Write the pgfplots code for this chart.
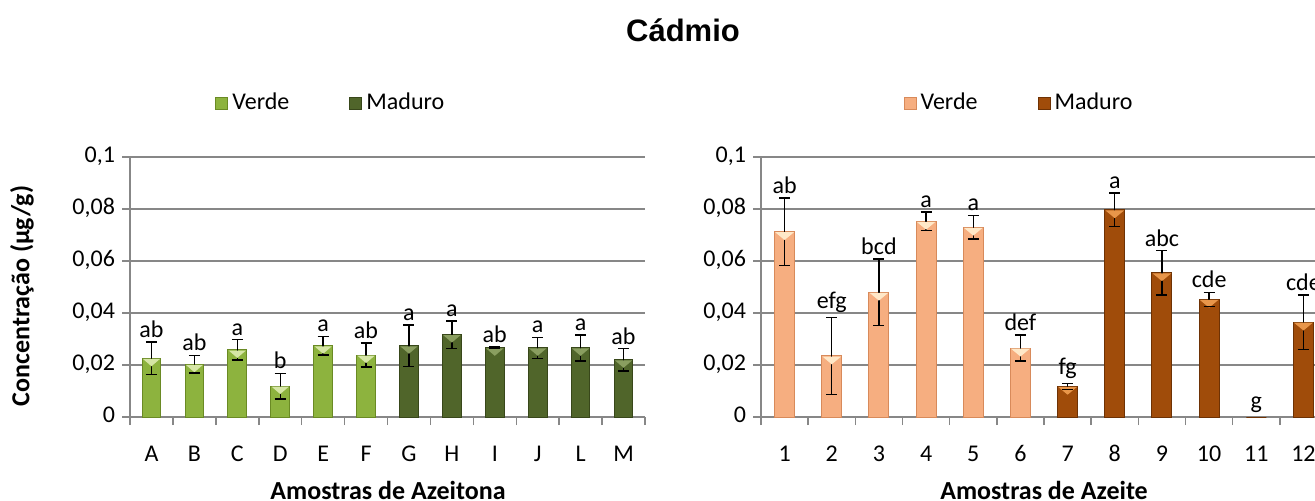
\documentclass[border=0pt]{standalone}
\usepackage{fontspec}
\setmainfont{Carlito}
\newfontfamily\arialf{Liberation Sans}
\usepackage{pgfplots}
\pgfplotsset{compat=1.18}
\definecolor{gridc}{HTML}{878787}
\definecolor{gvL}{HTML}{8DB33E}\definecolor{gvE}{HTML}{6A8A24}
\definecolor{gmL}{HTML}{50652A}\definecolor{gmE}{HTML}{38471A}
\definecolor{ovL}{HTML}{F6AE80}\definecolor{ovE}{HTML}{D88A5A}
\definecolor{omL}{HTML}{A04C0A}\definecolor{omE}{HTML}{6E3204}
\definecolor{gvT}{HTML}{D6E6A6}\definecolor{gmT}{HTML}{8A9E60}
\definecolor{ovT}{HTML}{FFE8C8}\definecolor{omT}{HTML}{E8964A}
\newcommand{\fs}{\fontsize{12}{14}\selectfont}
\newcommand{\fb}{\bfseries\fontsize{13}{15}\selectfont}
\pgfdeclareplotmark{invtriL}{\pgfpathmoveto{\pgfpoint{-4.3pt}{-0.3pt}}\pgfpathlineto{\pgfpoint{4.3pt}{-0.3pt}}\pgfpathlineto{\pgfpoint{0pt}{-4pt}}\pgfpathclose\pgfusepathqfill}
\pgfdeclareplotmark{invtriR}{\pgfpathmoveto{\pgfpoint{-4.7pt}{-0.3pt}}\pgfpathlineto{\pgfpoint{4.7pt}{-0.3pt}}\pgfpathlineto{\pgfpoint{0pt}{-4.2pt}}\pgfpathclose\pgfusepathqfill}
\pgfdeclareplotmark{hcap}{\pgfpathmoveto{\pgfpoint{-2.75pt}{0pt}}\pgfpathlineto{\pgfpoint{2.75pt}{0pt}}\pgfusepathqstroke}
\pgfplotsset{
  myax/.style={
    scale only axis, anchor=south west,
    height=130pt, ymin=0, ymax=0.1,
    xmin=0.5, xmax=12.5,
    axis lines=left, axis line style={-, draw=gridc, line width=0.75pt},
    ymajorgrids, grid style={draw=gridc, line width=0.75pt},
    ytick={0,0.02,0.04,0.06,0.08,0.1},
    yticklabel style={/pgf/number format/fixed, /pgf/number format/use comma, /pgf/number format/assume math mode=true, font=\fs},
    tick align=outside, major tick length=4pt,
    tick style={draw=gridc, line width=0.75pt},
    xtick={0.5,1.5,...,12.5}, xticklabels={,,,,,,,,,,,,,},
    typeset ticklabels with strut,
    extra x ticks={1,...,12},
    extra x tick style={major tick length=0pt, xticklabel style={yshift=-9pt, font=\fs}},
    ybar, bar shift=0pt,
    legend columns=2,
    legend style={draw=none, fill=none, font=\fs, anchor=center, /tikz/every even column/.append style={column sep=28pt}},
    legend image code/.code={\path[##1] (0pt,-3pt) rectangle (6pt,3pt);},
    clip=false,
  },
  lbl/.style={only marks, mark=none, forget plot, nodes near coords, point meta=explicit symbolic,
    every node near coord/.style={anchor=south, font=\fs, black, inner sep=2pt}},
  eb/.style={draw=none, fill=none, mark=none, forget plot,
    error bars/.cd, y dir=both, y explicit, error mark=none,
    error bar style={draw=black, line width=0.7pt}},
  caps/.style={only marks, mark=hcap, forget plot, mark options={draw=black, line width=0.7pt}},
}
\begin{document}
\begin{tikzpicture}
\useasboundingbox (0,0) rectangle (657.5pt,250pt);
\node[font=\arialf\bfseries\fontsize{15.5}{18}\selectfont] at (341.5pt,235pt) {Cádmio};
\node[font=\fb, rotate=90] at (11pt,102pt) {Concentração (µg/g)};
\node[font=\fb] at (194pt,5pt) {Amostras de Azeitona};
\node[font=\fb] at (522pt,5pt) {Amostras de Azeite};

\begin{axis}[myax, at={(65pt,41.5pt)}, width=257.5pt, bar width=9.3pt,
  extra x tick labels={A,B,C,D,E,F,G,H,I,J,L,M},
  legend style={at={(0.392,1.2077)}}]
\addplot[fill=gvL, draw=gvE, line width=0.5pt]
 coordinates {(1,0.0226) (2,0.0203) (3,0.0258) (4,0.0119) (5,0.0274) (6,0.0238)};
\addlegendentry{Verde}
\addplot[fill=gmL, draw=gmE, line width=0.5pt]
 coordinates {(7,0.0274) (8,0.0317) (9,0.0266) (10,0.0266) (11,0.0266) (12,0.0220)};
\addlegendentry{Maduro}
\addplot[only marks, mark=invtriL, color=gvT, forget plot]
 coordinates {(1,0.0226) (2,0.0203) (3,0.0258) (4,0.0119) (5,0.0274) (6,0.0238)};
\addplot[only marks, mark=invtriL, color=gmT, forget plot]
 coordinates {(7,0.0274) (8,0.0317) (9,0.0266) (10,0.0266) (11,0.0266) (12,0.0220)};
\addplot[eb] coordinates {
 (1,0.0226) +- (0,0.0062) (2,0.0203) +- (0,0.0034) (3,0.0258) +- (0,0.0039)
 (4,0.0119) +- (0,0.0049) (5,0.0274) +- (0,0.0036) (6,0.0238) +- (0,0.0046)
 (7,0.0274) +- (0,0.0080) (8,0.0317) +- (0,0.0053) (9,0.0266) +- (0,0.0003)
 (10,0.0266) +- (0,0.0040) (11,0.0266) +- (0,0.0050) (12,0.0220) +- (0,0.0043)};
\addplot[caps] coordinates {
 (1,0.0288) (1,0.0164) (2,0.0237) (2,0.0169) (3,0.0297) (3,0.0219)
 (4,0.0168) (4,0.0070) (5,0.0310) (5,0.0238) (6,0.0284) (6,0.0192)
 (7,0.0354) (7,0.0194) (8,0.0370) (8,0.0264) (9,0.0269) (9,0.0263)
 (10,0.0306) (10,0.0226) (11,0.0316) (11,0.0216) (12,0.0263) (12,0.0177)};
\addplot[lbl] coordinates {
 (1,0.0288)[ab] (2,0.0237)[ab] (3,0.0297)[a] (4,0.0168)[b] (5,0.0310)[a] (6,0.0284)[ab]
 (7,0.0354)[a] (8,0.0370)[a] (9,0.0269)[ab] (10,0.0306)[a] (11,0.0316)[a] (12,0.0263)[ab]};
\end{axis}

\begin{axis}[myax, at={(380.5pt,41.5pt)}, width=283pt, bar width=10pt,
  extra x tick labels={1,2,3,4,5,6,7,8,9,10,11,12},
  legend style={at={(0.4576,1.2077)}}]
\addplot[fill=ovL, draw=ovE, line width=0.5pt]
 coordinates {(1,0.0713) (2,0.0235) (3,0.0480) (4,0.0753) (5,0.0730) (6,0.0265)};
\addlegendentry{Verde}
\addplot[fill=omL, draw=omE, line width=0.5pt]
 coordinates {(7,0.0118) (8,0.0797) (9,0.0555) (10,0.0453) (11,0) (12,0.0365)};
\addlegendentry{Maduro}
\addplot[only marks, mark=invtriR, color=ovT, forget plot]
 coordinates {(1,0.0713) (2,0.0235) (3,0.0480) (4,0.0753) (5,0.0730) (6,0.0265)};
\addplot[only marks, mark=invtriR, color=omT, forget plot]
 coordinates {(7,0.0118) (8,0.0797) (9,0.0555) (10,0.0453) (12,0.0365)};
\addplot[eb] coordinates {
 (1,0.0713) +- (0,0.0130) (2,0.0235) +- (0,0.0148) (3,0.0480) +- (0,0.0128)
 (4,0.0753) +- (0,0.0036) (5,0.0730) +- (0,0.0046) (6,0.0265) +- (0,0.0050)
 (7,0.0118) +- (0,0.0012) (8,0.0797) +- (0,0.0065) (9,0.0555) +- (0,0.0085)
 (10,0.0453) +- (0,0.0027) (12,0.0365) +- (0,0.0105)};
\addplot[caps] coordinates {
 (1,0.0843) (1,0.0583) (2,0.0383) (2,0.0087) (3,0.0608) (3,0.0352)
 (4,0.0789) (4,0.0717) (5,0.0776) (5,0.0684) (6,0.0315) (6,0.0215)
 (7,0.0130) (7,0.0106) (8,0.0862) (8,0.0732) (9,0.0640) (9,0.0470)
 (10,0.0480) (10,0.0426) (12,0.0470) (12,0.0260)};
\addplot[lbl] coordinates {
 (1,0.0843)[ab] (2,0.0383)[efg] (3,0.0608)[bcd] (4,0.0789)[a] (5,0.0776)[a] (6,0.0315)[def]
 (7,0.0130)[fg] (8,0.0862)[a] (9,0.0640)[abc] (10,0.0480)[cde] (11,0.0)[g] (12,0.0470)[cde]};
\end{axis}
\end{tikzpicture}
\end{document}
